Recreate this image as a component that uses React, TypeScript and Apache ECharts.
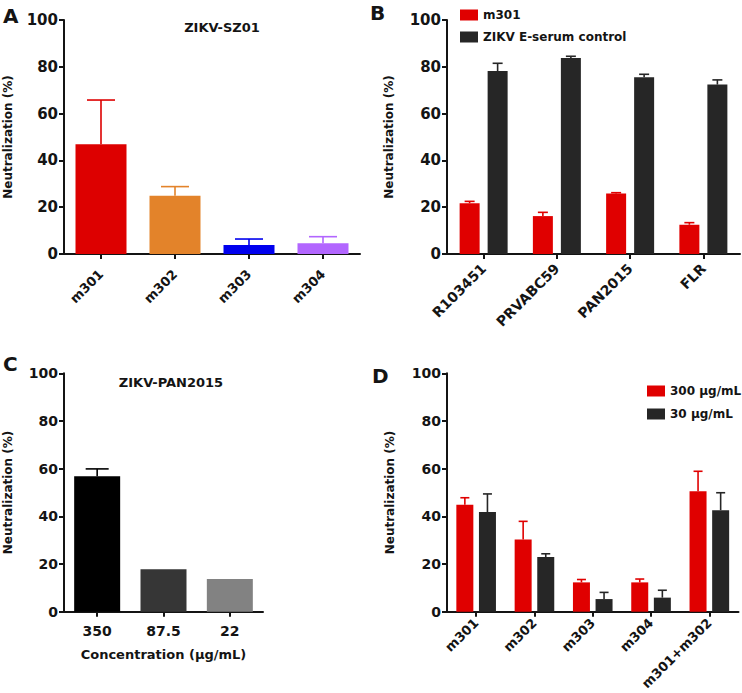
import React, { useEffect, useRef } from "react";
import * as echarts from "echarts";

// ---------- Data ----------
const aCategories = ["m301", "m302", "m303", "m304"];
const aValues = [46.9, 24.9, 3.8, 4.6];
const aErrTops = [65.8, 28.8, 6.4, 7.4];

const bCategories = ["R103451", "PRVABC59", "PAN2015", "FLR"];
const bM301 = [21.7, 16.2, 25.9, 12.5];
const bM301ErrTops = [22.5, 17.8, 26.2, 13.4];
const bControl = [78.2, 83.8, 75.5, 72.4];
const bControlErrTops = [81.5, 84.5, 76.8, 74.4];

const cCategories = ["350", "87.5", "22"];
const cValues = [56.8, 17.8, 13.7];
const cErrTops = [59.9, null, null];

const dCategories = ["m301", "m302", "m303", "m304", "m301+m302"];
const d300 = [44.9, 30.3, 12.3, 12.3, 50.5];
const d300ErrTops = [47.8, 37.9, 13.5, 13.7, 58.9];
const d30 = [41.8, 22.9, 5.3, 5.9, 42.6];
const d30ErrTops = [49.4, 24.3, 8.1, 9.0, 49.9];

const yTicks = [0, 20, 40, 60, 80, 100];

// ---------- Styles ----------
const FONT = "'DejaVu Sans', 'Liberation Sans', Arial, sans-serif";
const INK = "#141414";
const RED = "#E00000";
const DARK = "#262626";
const aColors = ["#DD0000", "#E3832A", "#0000EE", "#B266FF"];
const cColors = ["#000000", "#363636", "#828282"];

function errSeries(
  name: string,
  gridIdx: number,
  values: number[],
  tops: (number | null)[],
  color: string | string[],
  offset: number,
  cap: number
) {
  return {
    type: "custom",
    name,
    xAxisIndex: gridIdx,
    yAxisIndex: gridIdx,
    z: 5,
    silent: true,
    data: values
      .map((v, i) => (tops[i] == null ? null : [i, v, tops[i]]))
      .filter((d) => d !== null),
    renderItem: (params: any, api: any) => {
      const i = api.value(0);
      const p0 = api.coord([i, api.value(1)]);
      const p1 = api.coord([i, api.value(2)]);
      const cx = p0[0] + offset;
      const c = Array.isArray(color) ? color[i] : color;
      const st = { stroke: c, lineWidth: 1.6 };
      return {
        type: "group",
        children: [
          { type: "line", shape: { x1: cx, y1: p0[1], x2: cx, y2: p1[1] }, style: st },
          { type: "line", shape: { x1: cx - cap / 2, y1: p1[1], x2: cx + cap / 2, y2: p1[1] }, style: st },
        ],
      };
    },
  };
}

function yAxisFor(gridIndex: number, labelSize: number, nameGap: number) {
  return {
    type: "value",
    gridIndex,
    min: yTicks[0],
    max: yTicks[yTicks.length - 1],
    interval: yTicks[1] - yTicks[0],
    name: "Neutralization (%)",
    nameLocation: "middle",
    nameRotate: 90,
    nameGap,
    nameTextStyle: { fontFamily: FONT, fontWeight: "bold", fontSize: 12, color: INK },
    axisLine: { show: true, lineStyle: { color: INK, width: 2 } },
    axisTick: { show: true, length: 5, lineStyle: { color: INK, width: 2 } },
    axisLabel: { fontFamily: FONT, fontWeight: "bold", fontSize: labelSize, color: INK, margin: 6 },
    splitLine: { show: false },
  };
}

function xAxisFor(gridIndex: number, data: string[], rotate: number, fontSize: number, margin: number) {
  return {
    type: "category",
    gridIndex,
    data,
    axisLine: { show: true, lineStyle: { color: INK, width: 2 } },
    axisTick: { show: true, alignWithLabel: true, length: 5, lineStyle: { color: INK, width: 2 } },
    axisLabel: {
      fontFamily: FONT,
      fontWeight: "bold",
      fontSize,
      color: INK,
      rotate,
      margin,
      interval: 0,
    },
  };
}

export default function App() {
  const ref = useRef<HTMLDivElement>(null);

  useEffect(() => {
    if (!ref.current) return;
    const chart = echarts.init(ref.current, undefined, { renderer: "svg" });

    const bOff = 14;
    const dOff = 11.3;
    const legendText = { fontFamily: FONT, fontWeight: "bold", fontSize: 12, color: INK, lineHeight: 14 };

    const option: any = {
      animation: false,
      backgroundColor: "#ffffff",
      grid: [
        { left: 64, top: 20, width: 296, height: 234 },
        { left: 447, top: 20, width: 293, height: 234 },
        { left: 64, top: 373.3, width: 199, height: 238.4 },
        { left: 447, top: 373.3, width: 291.5, height: 238.4 },
      ],
      xAxis: [
        xAxisFor(0, aCategories, 45, 13, 18),
        xAxisFor(1, bCategories, 45, 14, 12),
        {
          ...xAxisFor(2, cCategories, 0, 14, 12),
          name: "Concentration (μg/mL)",
          nameLocation: "middle",
          nameGap: 36,
          nameTextStyle: {
            fontFamily: FONT,
            fontWeight: "bold",
            fontSize: 13,
            color: INK,
            verticalAlign: "top",
          },
        },
        xAxisFor(3, dCategories, 45, 13, 9),
      ],
      yAxis: [yAxisFor(0, 15, 50), yAxisFor(1, 15, 52), yAxisFor(2, 14, 50), yAxisFor(3, 14, 51)],
      legend: [
        {
          orient: "vertical",
          left: 455,
          top: 3,
          itemWidth: 18,
          itemHeight: 11,
          itemGap: 8,
          icon: "rect",
          selectedMode: false,
          data: ["m301", "ZIKV E-serum control"],
          textStyle: legendText,
        },
        {
          orient: "vertical",
          left: 642,
          top: 379,
          itemWidth: 18,
          itemHeight: 11,
          itemGap: 9,
          icon: "rect",
          selectedMode: false,
          data: ["300 μg/mL", "30 μg/mL"],
          textStyle: legendText,
        },
      ],
      series: [
        // A
        {
          type: "bar",
          name: "ZIKV-SZ01",
          xAxisIndex: 0,
          yAxisIndex: 0,
          barWidth: 51,
          data: aValues.map((v, i) => ({ value: v, itemStyle: { color: aColors[i] } })),
        },
        errSeries("A err", 0, aValues, aErrTops, aColors, 0, 28),
        // B
        {
          type: "bar",
          name: "m301",
          xAxisIndex: 1,
          yAxisIndex: 1,
          barWidth: 20,
          barGap: "40%",
          itemStyle: { color: RED },
          data: bM301,
        },
        {
          type: "bar",
          name: "ZIKV E-serum control",
          xAxisIndex: 1,
          yAxisIndex: 1,
          barWidth: 20,
          barGap: "40%",
          itemStyle: { color: DARK },
          data: bControl,
        },
        errSeries("B err1", 1, bM301, bM301ErrTops, RED, -bOff, 10),
        errSeries("B err2", 1, bControl, bControlErrTops, DARK, bOff, 10),
        // C
        {
          type: "bar",
          name: "ZIKV-PAN2015",
          xAxisIndex: 2,
          yAxisIndex: 2,
          barWidth: 46,
          data: cValues.map((v, i) => ({ value: v, itemStyle: { color: cColors[i] } })),
        },
        errSeries("C err", 2, cValues, cErrTops, cColors, 0, 23),
        // D
        {
          type: "bar",
          name: "300 μg/mL",
          xAxisIndex: 3,
          yAxisIndex: 3,
          barWidth: 17,
          barGap: "33%",
          itemStyle: { color: RED },
          data: d300,
        },
        {
          type: "bar",
          name: "30 μg/mL",
          xAxisIndex: 3,
          yAxisIndex: 3,
          barWidth: 17,
          barGap: "33%",
          itemStyle: { color: DARK },
          data: d30,
        },
        errSeries("D err1", 3, d300, d300ErrTops, RED, -dOff, 9),
        errSeries("D err2", 3, d30, d30ErrTops, DARK, dOff, 9),
      ],
      graphic: [
        { type: "text", x: 3, y: 6, style: { text: "A", font: `bold 20px ${FONT}`, fill: INK } },
        { type: "text", x: 370, y: 3, style: { text: "B", font: `bold 20px ${FONT}`, fill: INK } },
        { type: "text", x: 3, y: 354, style: { text: "C", font: `bold 20px ${FONT}`, fill: INK } },
        { type: "text", x: 372, y: 366, style: { text: "D", font: `bold 20px ${FONT}`, fill: INK } },
        {
          type: "text",
          x: 222,
          y: 27,
          style: {
            text: "ZIKV-SZ01",
            font: `bold 13px ${FONT}`,
            fill: INK,
            textAlign: "center",
            textVerticalAlign: "middle",
          },
        },
        {
          type: "text",
          x: 171,
          y: 382,
          style: {
            text: "ZIKV-PAN2015",
            font: `bold 13px ${FONT}`,
            fill: INK,
            textAlign: "center",
            textVerticalAlign: "middle",
          },
        },
      ],
    };

    chart.setOption(option);
    return () => chart.dispose();
  }, []);

  return (
    <div
      ref={ref}
      style={{ position: "absolute", left: 0, top: 0, width: 742, height: 693, background: "#fff" }}
    />
  );
}
